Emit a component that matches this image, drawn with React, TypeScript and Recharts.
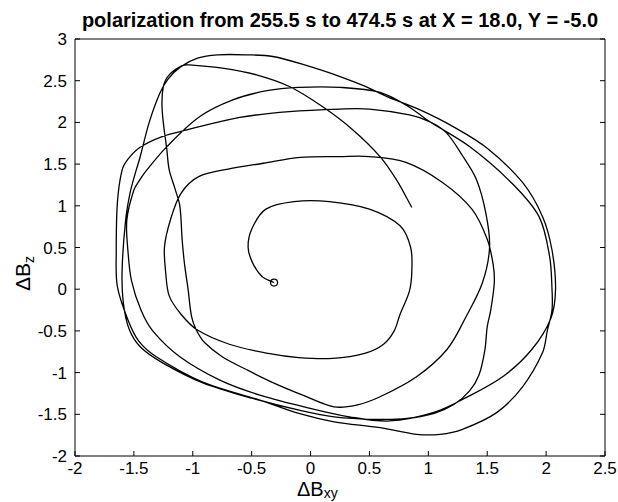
import React from 'react';
import { LineChart, Line, XAxis, YAxis, Label } from 'recharts';

const FONT = '"Liberation Sans", Arial, Helvetica, sans-serif';

const X_TICKS = [-2, -1.5, -1, -0.5, 0, 0.5, 1, 1.5, 2, 2.5];
const Y_TICKS = [-2, -1.5, -1, -0.5, 0, 0.5, 1, 1.5, 2, 2.5, 3];

const TITLE = 'polarization from 255.5 s to 474.5 s at X = 18.0, Y = -5.0';

// first sample, drawn as a small open circle
const START_POINT = [{ x: -0.31, y: 0.08 }];

// [dBxy, dBz] in time order, cut where the trace goes round the left side
const INNER_LOOP = [
  [-0.31, 0.08], [-0.41, 0.15], [-0.49, 0.31], [-0.53, 0.5], [-0.5, 0.72], [-0.38, 0.96],
  [-0.14, 1.05], [0.16, 1.05], [0.5, 0.96], [0.76, 0.76], [0.85, 0.5], [0.86, 0.22],
  [0.84, -0.02], [0.76, -0.3], [0.71, -0.5], [0.62, -0.66], [0.46, -0.77], [0.19, -0.83],
  [-0.1, -0.82], [-0.36, -0.77], [-0.69, -0.66], [-0.96, -0.49],
];

const LOOP_2 = [
  [-1.1, -0.3], [-1.2, -0.08], [-1.23, 0.2], [-1.24, 0.51], [-1.19, 0.83], [-1.1, 1.15],
  [-0.95, 1.35], [-0.7, 1.44], [-0.4, 1.51], [-0.09, 1.58], [0.25, 1.59], [0.5, 1.59],
  [0.81, 1.52], [1.12, 1.28], [1.37, 0.96], [1.5, 0.6], [1.55, 0.3], [1.56, 0.08],
  [1.53, -0.25], [1.5, -0.45], [1.48, -0.73], [1.43, -1.03], [1.35, -1.22], [1.22, -1.38],
  [1.05, -1.49], [0.82, -1.55], [0.55, -1.56], [0.2, -1.53], [-0.07, -1.46], [-0.49, -1.31],
  [-0.92, -1.12], [-1.26, -0.88], [-1.44, -0.7], [-1.54, -0.48], [-1.59, -0.16], [-1.6, 0.23],
  [-1.57, 0.83], [-1.53, 1.17], [-1.48, 1.43],
];

const LOOP_3 = [
  [-1.45, 1.57], [-1.37, 2.0], [-1.28, 2.35], [-1.21, 2.52], [-1.11, 2.66], [-0.96, 2.77],
  [-0.79, 2.81], [-0.54, 2.81], [-0.32, 2.79], [-0.03, 2.68], [0.25, 2.55], [0.45, 2.44],
  [0.65, 2.31], [0.93, 2.15], [1.21, 1.95], [1.5, 1.69], [1.8, 1.28], [1.97, 0.87],
  [2.05, 0.47], [2.08, 0.0], [2.04, -0.35], [1.88, -0.72], [1.64, -1.04], [1.32, -1.3],
  [1.04, -1.48], [0.67, -1.58], [0.33, -1.53], [0.0, -1.43], [-0.43, -1.27], [-0.77, -1.09],
  [-1.11, -0.81], [-1.34, -0.5], [-1.44, -0.25], [-1.52, 0.1], [-1.55, 0.45], [-1.56, 0.83],
  [-1.5, 1.19], [-1.45, 1.31], [-1.39, 1.43],
];

const LOOP_4 = [
  [-1.22, 1.71], [-0.94, 2.07], [-0.66, 2.27], [-0.37, 2.38], [-0.1, 2.42], [0.25, 2.42],
  [0.59, 2.36], [0.82, 2.2], [1.01, 2.01], [1.35, 1.71], [1.71, 1.27], [1.94, 0.87],
  [2.03, 0.39], [2.05, 0.0], [2.05, -0.25], [2.01, -0.5], [1.97, -0.76], [1.8, -1.17],
  [1.58, -1.48], [1.29, -1.68], [1.1, -1.74], [0.9, -1.74], [0.59, -1.66], [0.2, -1.59],
  [-0.1, -1.49], [-0.43, -1.33], [-0.92, -1.11], [-1.31, -0.81], [-1.46, -0.62], [-1.55, -0.37],
  [-1.64, 0.03], [-1.65, 0.44], [-1.64, 1.04], [-1.6, 1.43], [-1.55, 1.56],
];

const LOOP_5 = [
  [-1.45, 1.7], [-1.26, 1.83], [-1.05, 1.91], [-0.6, 2.06], [-0.18, 2.13], [0.25, 2.16],
  [0.5, 2.16], [0.84, 2.09], [1.01, 2.01], [1.15, 1.88], [1.29, 1.6], [1.41, 1.31],
  [1.49, 0.9], [1.52, 0.5], [1.46, 0.08], [1.32, -0.33], [1.16, -0.72], [0.9, -1.05],
  [0.59, -1.29], [0.39, -1.39], [0.2, -1.41], [-0.05, -1.28], [-0.32, -1.12], [-0.55, -0.96],
  [-0.75, -0.81], [-0.9, -0.64], [-0.97, -0.49], [-1.01, -0.33], [-1.04, 0.0], [-1.07, 0.3],
  [-1.09, 0.59], [-1.11, 1.0], [-1.15, 1.2], [-1.2, 1.43], [-1.22, 1.67],
];

const FINAL_ARC = [
  [-1.26, 2.15], [-1.25, 2.43], [-1.2, 2.57], [-1.09, 2.68], [-1.03, 2.69], [-0.75, 2.65],
  [-0.46, 2.57], [-0.18, 2.43], [0.1, 2.19], [0.36, 1.91], [0.59, 1.59], [0.73, 1.31],
  [0.86, 0.98],
];

const TRACE = [...INNER_LOOP, ...LOOP_2, ...LOOP_3, ...LOOP_4, ...LOOP_5, ...FINAL_ARC].map(
  ([x, y]) => ({ x, y })
);

// smooth curve through the points, tangents scaled by chord length (no overshoot on uneven spacing)
const smoothCurve = (context: any) => {
  let pts: number[][] = [];
  const dist = (a: number[], b: number[]) => Math.hypot(b[0] - a[0], b[1] - a[1]) || 1e-6;
  return {
    areaStart() {},
    areaEnd() {},
    lineStart() {
      pts = [];
    },
    point(x: number, y: number) {
      pts.push([+x, +y]);
    },
    lineEnd() {
      const n = pts.length;
      if (!n) return;
      context.moveTo(pts[0][0], pts[0][1]);
      const tangent = (i: number) => {
        const prev = pts[Math.max(i - 1, 0)];
        const next = pts[Math.min(i + 1, n - 1)];
        const d = dist(prev, pts[i]) + dist(pts[i], next);
        return [(next[0] - prev[0]) / d, (next[1] - prev[1]) / d];
      };
      for (let i = 0; i < n - 1; i++) {
        const p1 = pts[i];
        const p2 = pts[i + 1];
        const len = dist(p1, p2) / 3;
        const t1 = tangent(i);
        const t2 = tangent(i + 1);
        context.bezierCurveTo(
          p1[0] + t1[0] * len, p1[1] + t1[1] * len,
          p2[0] - t2[0] * len, p2[1] - t2[1] * len,
          p2[0], p2[1]
        );
      }
    },
  };
};

const TICK_LEN = 5;
const labelFont = { fontFamily: FONT, fontSize: 17, fill: '#000' };

const BottomTick = (props: any) => {
  const { x, y, payload } = props;
  return (
    <g>
      <line x1={x} y1={y} x2={x} y2={y - TICK_LEN} stroke="#000" strokeWidth={1} />
      <text x={x} y={y + 18} textAnchor="middle" {...labelFont}>{payload.value}</text>
    </g>
  );
};

const TopTick = (props: any) => (
  <line x1={props.x} y1={props.y} x2={props.x} y2={props.y + TICK_LEN} stroke="#000" strokeWidth={1} />
);

const LeftTick = (props: any) => {
  const { x, y, payload } = props;
  return (
    <g>
      <line x1={x} y1={y} x2={x + TICK_LEN} y2={y} stroke="#000" strokeWidth={1} />
      <text x={x - 8} y={y + 6} textAnchor="end" {...labelFont}>{payload.value}</text>
    </g>
  );
};

const RightTick = (props: any) => (
  <line x1={props.x} y1={props.y} x2={props.x - TICK_LEN} y2={props.y} stroke="#000" strokeWidth={1} />
);

const renderTitle = (props: any) => {
  const vb = props.viewBox;
  return (
    <text x={vb.x + vb.width / 2} y={27} textAnchor="middle" fontFamily={FONT} fontWeight="bold" fontSize={20} fill="#000">
      {TITLE}
    </text>
  );
};

const renderXLabel = () => (
  <text x={297} y={496} fontFamily={FONT} fontSize={20} fill="#000">
    ΔB<tspan fontSize={14} dy={2}>xy</tspan>
  </text>
);

const renderYLabel = () => (
  <text x={30} y={291} transform="rotate(-90 30 291)" fontFamily={FONT} fontSize={21} fill="#000">
    ΔB<tspan fontSize={14} dy={4}>z</tspan>
  </text>
);

export default function App() {
  return (
    <div style={{ position: 'absolute', left: 0, top: 0, background: '#fff' }}>
      <LineChart width={618} height={502} margin={{ top: 38, right: 12, bottom: 16, left: 0 }}>
        <XAxis
          type="number"
          dataKey="x"
          domain={[-2, 2.5]}
          ticks={X_TICKS}
          interval={0}
          allowDataOverflow
          height={30}
          tickSize={0}
          tickMargin={0}
          tickLine={false}
          tick={BottomTick}
          axisLine={{ stroke: '#000' }}
        >
          <Label content={renderXLabel} />
        </XAxis>
        <XAxis
          xAxisId="top"
          orientation="top"
          type="number"
          domain={[-2, 2.5]}
          ticks={X_TICKS}
          interval={0}
          allowDataOverflow
          height={1}
          tickSize={0}
          tickMargin={0}
          tickLine={false}
          tick={TopTick}
          axisLine={{ stroke: '#000' }}
        >
          <Label content={renderTitle} />
        </XAxis>
        <YAxis
          type="number"
          domain={[-2, 3]}
          ticks={Y_TICKS}
          interval={0}
          allowDataOverflow
          width={75}
          tickSize={0}
          tickMargin={0}
          tickLine={false}
          tick={LeftTick}
          axisLine={{ stroke: '#000' }}
        >
          <Label content={renderYLabel} />
        </YAxis>
        <YAxis
          yAxisId="right"
          orientation="right"
          type="number"
          domain={[-2, 3]}
          ticks={Y_TICKS}
          interval={0}
          allowDataOverflow
          width={1}
          tickSize={0}
          tickMargin={0}
          tickLine={false}
          tick={RightTick}
          axisLine={{ stroke: '#000' }}
        />
        <Line
          data={TRACE}
          dataKey="y"
          type={smoothCurve}
          stroke="#000"
          strokeWidth={1.3}
          dot={false}
          isAnimationActive={false}
        />
        <Line
          data={START_POINT}
          dataKey="y"
          stroke="none"
          dot={{ r: 3.5, stroke: '#000', strokeWidth: 1.2, fill: 'none' }}
          isAnimationActive={false}
        />
      </LineChart>
    </div>
  );
}
